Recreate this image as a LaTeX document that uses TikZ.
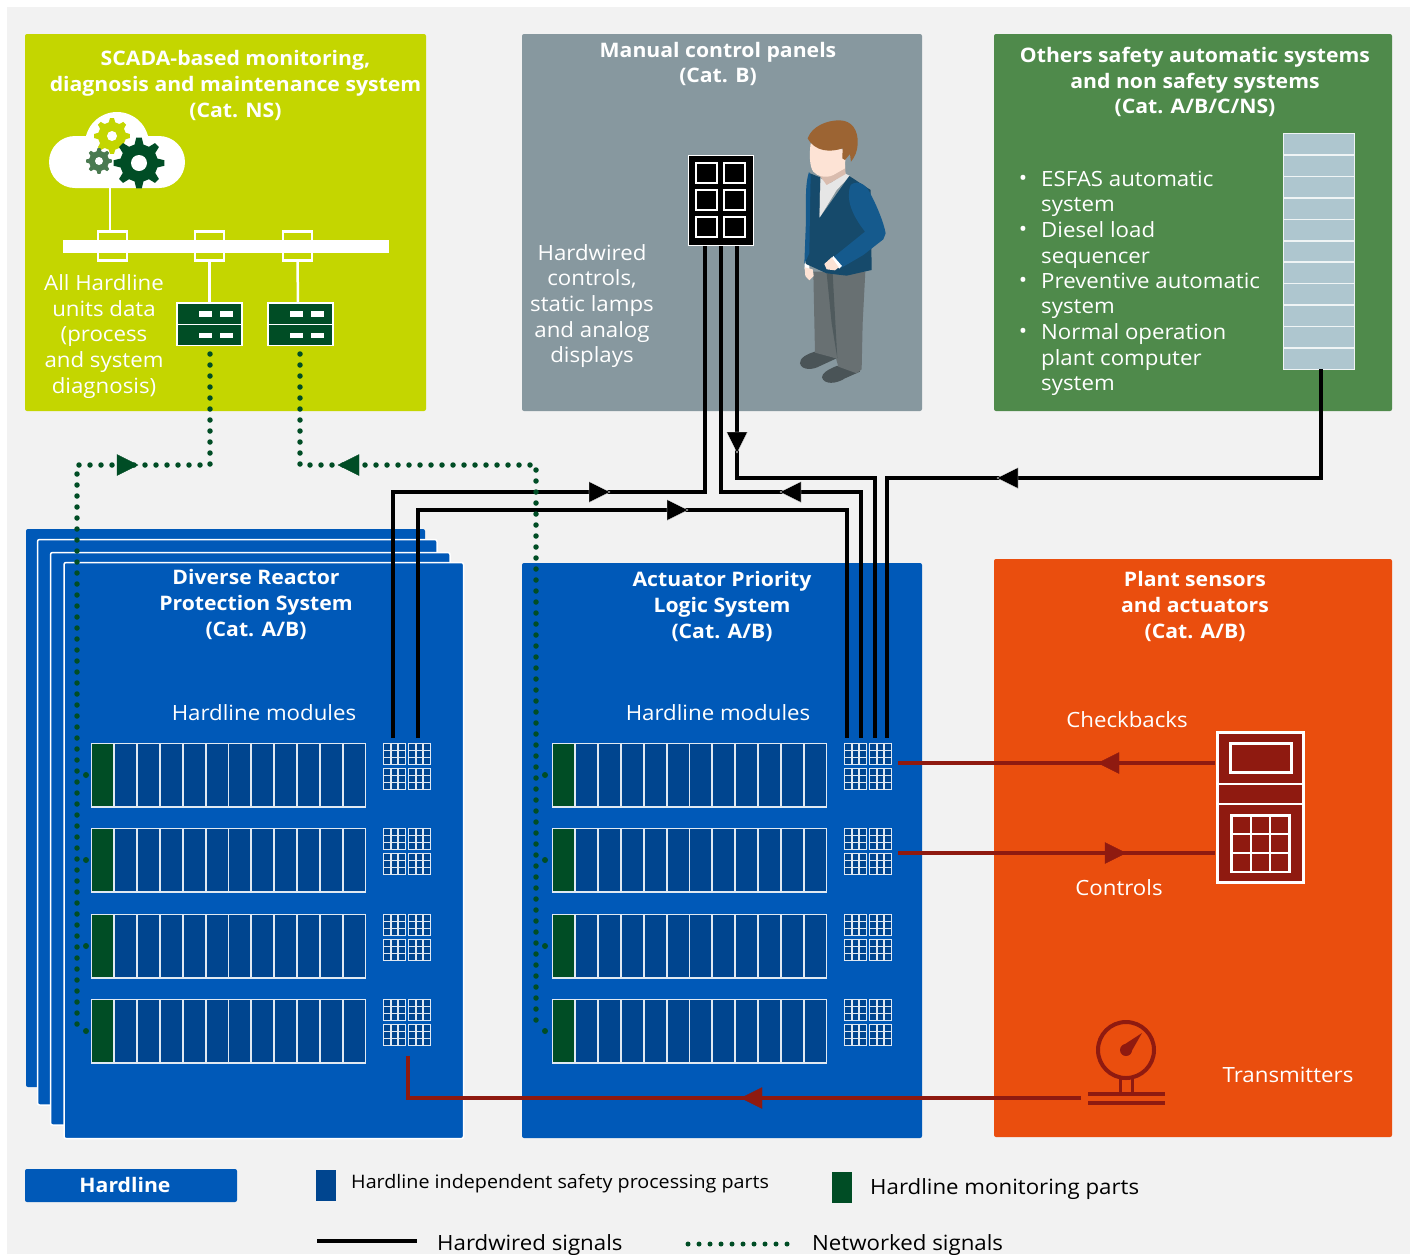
\documentclass[tikz,border=0pt]{standalone}
\usepackage{fontspec}
\setmainfont{Open Sans}[FakeStretch=1.06]
\definecolor{pagebg}{HTML}{F2F2F2}
\definecolor{limebox}{HTML}{C4D600}
\definecolor{greybox}{HTML}{87989F}
\definecolor{greenbox}{HTML}{4F8A4B}
\definecolor{hlblue}{HTML}{0059B8}
\definecolor{orangebox}{HTML}{EA4E0E}
\definecolor{partblue}{HTML}{00458F}
\definecolor{partgreen}{HTML}{004D25}
\definecolor{sigred}{HTML}{8F1A10}
\definecolor{rackblue}{HTML}{AEC6CF}
\definecolor{midgreen}{HTML}{4A7A50}
\definecolor{jacket}{HTML}{164A6B}
\definecolor{sleeve}{HTML}{155A8D}
\definecolor{trouser}{HTML}{687072}
\definecolor{fold}{HTML}{4F5A5D}
\definecolor{shoe}{HTML}{4A5457}
\definecolor{skin}{HTML}{FDE3D5}
\definecolor{hairc}{HTML}{9C6433}
\definecolor{shirt}{HTML}{E6E6E6}
\definecolor{neckc}{HTML}{D9BCAE}
\tikzset{
  panelbox/.style={rounded corners=2pt,draw=none},
  layer/.style={rounded corners=2pt,fill=hlblue,draw=white,line width=1.5pt},
  titletext/.style={text=white,font=\fontsize{20}{25.6}\selectfont\bfseries,align=center,inner sep=0pt},
  bodytext/.style={text=white,font=\fontsize{21}{25.6}\selectfont,align=center,inner sep=0pt},
  legendtext/.style={text=black,font=\fontsize{21}{24}\selectfont,anchor=west,inner sep=0pt},
  hardwire/.style={draw=black,line width=4pt,line join=miter},
  netsig/.style={draw=partgreen,line width=5.5pt,line cap=round,dash pattern=on 0pt off 11pt},
  redsig/.style={draw=sigred,line width=4pt},
  modcell/.style={draw=white!88!partblue,line width=1.8pt},
  whiteline/.style={draw=white,line width=3pt},
}
\newcommand{\modrow}[2]{%
  \draw[modcell,fill=partgreen] (#1+0.5,#2+0.4) rectangle ++(22.8,63.2);
  \foreach \ci in {1,...,11}{\draw[modcell,fill=partblue] (#1+0.5+\ci*22.83,#2+0.4) rectangle ++(22.83,63.2);}
}
\newcommand{\tinygrid}[2]{%
  \draw[modcell,line width=1.5pt,fill=partblue] (#1+0.7,#2+0.7) rectangle ++(21.6,21);
  \foreach \gi in {1,2}{
    \draw[modcell,line width=1.5pt] (#1+0.7+\gi*7.2,#2+0.7) -- ++(0,21);
    \draw[modcell,line width=1.5pt] (#1+0.7,#2+0.7+\gi*7) -- ++(21.6,0);
  }
}
\newcommand{\gridblock}[2]{%
  \tinygrid{#1}{#2}\tinygrid{#1+25}{#2}\tinygrid{#1}{#2+25}\tinygrid{#1+25}{#2+25}
}
\newcommand{\gearshape}[7]{% x y outer root n colour hole
  \begin{scope}[shift={(#1,#2)}]
  \pgfmathsetmacro{\gs}{360/#5}
  \fill[#6] (-0.3*\gs:#4pt)
    \foreach \gk in {1,...,#5}{
      -- ({(\gk-1)*\gs-0.3*\gs}:#4pt) -- ({(\gk-1)*\gs-0.14*\gs}:#3pt) -- ({(\gk-1)*\gs+0.14*\gs}:#3pt) -- ({(\gk-1)*\gs+0.3*\gs}:#4pt)
    } -- cycle;
  \fill[white] (0,0) circle[radius=#7pt];
  \end{scope}
}
\newcommand{\headat}[5]{% tip x, tip y, direction (r,l,d), fill, outline
  \ifx#3r\filldraw[fill=#4,draw=#5,line width=.4pt] (#1,#2) -- ++(-21,-10.5) -- ++(0,21) -- cycle;\fi
  \ifx#3l\filldraw[fill=#4,draw=#5,line width=.4pt] (#1,#2) -- ++(21,-10.5) -- ++(0,21) -- cycle;\fi
  \ifx#3d\filldraw[fill=#4,draw=#5,line width=.4pt] (#1,#2) -- ++(-10.5,-21) -- ++(21,0) -- cycle;\fi
}
\begin{document}
\begin{tikzpicture}[x=1pt,y=-1pt]
\useasboundingbox (0,0) rectangle (1413,1254);
\fill[white] (0,0) rectangle (1413,1254);
\fill[pagebg] (7,7) rectangle (1410,1254);

% ---- top boxes
\fill[limebox,panelbox] (25,34) rectangle (426,411);
\fill[greybox,panelbox] (522,34) rectangle (922,411);
\fill[greenbox,panelbox] (994,34) rectangle (1392,411);
\node[titletext] (scadatitle) at (235.5,85.5) {SCADA-based monitoring,\\diagnosis and maintenance system\\(Cat. NS)};
\node[titletext] (manualtitle) at (718,64) {Manual control panels\\(Cat. B)};
\node[titletext] (otherstitle) at (1195,82) {Others safety automatic systems\\and non safety systems\\(Cat. A/B/C/NS)};

% ---- cloud
\fill[white,rounded corners=26pt] (49,136) rectangle (185,188);
\fill[white] (117,144) circle[radius=32pt];
\gearshape{112}{136}{18}{14}{8}{limebox}{5}
\gearshape{99}{161}{13}{10}{8}{midgreen}{4}
\gearshape{139}{163}{25.5}{19}{8}{partgreen}{8}
\coordinate (cloudfoot) at (110,188);

% ---- bus and servers
\fill[white] (63,240) rectangle (389,253);
\node[draw=white,line width=2.5pt,minimum width=29pt,minimum height=29pt,inner sep=0pt] (tap1) at (112.5,246) {};
\node[draw=white,line width=2.5pt,minimum width=29pt,minimum height=29pt,inner sep=0pt] (tap2) at (209.5,246) {};
\node[draw=white,line width=2.5pt,minimum width=29pt,minimum height=29pt,inner sep=0pt] (tap3) at (297.5,246) {};
\coordinate (server1top) at (209.5,303);
\coordinate (server2top) at (298,303);
\draw[white,line width=2.5pt] (cloudfoot) -- (110,231);
\draw[white,line width=2.5pt] (tap2.south) -- (server1top);
\draw[white,line width=2.5pt] (tap3.south) -- (server2top);
\foreach \sx in {177,268}{
  \draw[fill=partgreen,draw=white,line width=1.5pt] (\sx,303) rectangle ++(65,21.5);
  \draw[fill=partgreen,draw=white,line width=1.5pt] (\sx,324.5) rectangle ++(65,21);
  \fill[white] (\sx+22,311) rectangle ++(13,5.5);
  \fill[white] (\sx+43,311) rectangle ++(13,5.5);
  \fill[white] (\sx+22,332.5) rectangle ++(13,5.5);
  \fill[white] (\sx+43,332.5) rectangle ++(13,5.5);
}
\node[bodytext] (alltext) at (104,336.5) {All Hardline\\units data\\(process\\and system\\diagnosis)};

% ---- operator panel
\node[fill=black,draw=white,line width=1pt,minimum width=65pt,minimum height=90pt,inner sep=0pt] (oppanel) at (721,200.5) {};
\foreach \ox in {696,724}{\foreach \oy in {163,190,217}{
  \draw[white,line width=2.5pt] (\ox,\oy) rectangle ++(21,20);
}}
\node[bodytext] (hardwiredtext) at (592,306) {Hardwired\\controls,\\static lamps\\and analog\\displays};

% ---- person
\begin{scope}[shift={(680,110)},x=0.3333pt,y=-0.3333pt]
  \fill[shoe] (405,725) .. controls (380,732) and (358,745) .. (360,760) .. controls (365,782) and (400,780) .. (420,768) -- (470,745) -- cycle;
  \fill[shoe] (470,768) .. controls (445,778) and (425,790) .. (426,802) .. controls (432,825) and (470,822) .. (495,805) -- (540,785) -- (540,760) -- cycle;
  \fill[trouser] (400,485) -- (405,728) -- (468,745) -- (475,770) -- (530,790) -- (545,778) -- (548,640) -- (556,485) -- cycle;
  \fill[fold] (440,490) -- (458,490) -- (472,745) -- (455,640) -- cycle;
  \fill[white] (374,460) -- (388,462) -- (388,480) -- (374,478) -- cycle;
  \fill[skin] (374,472) -- (398,478) -- (401,498) -- (388,511) -- (376,498) -- cycle;
  \fill[shirt] (422,205) -- (418,325) -- (470,240) -- (510,198) -- (495,190) -- (450,220) -- cycle;
  \fill[neckc] (418,195) -- (440,225) -- (497,192) -- (495,165) -- cycle;
  \fill[jacket] (390,190) -- (420,202) -- (418,325) -- (508,198) -- (572,240) -- (575,480) -- (500,497) -- (440,490) -- (378,462) -- cycle;
  \fill[sleeve] (387,186) .. controls (375,220) and (378,280) .. (378,330) -- (373,462) -- (388,430) -- (390,300) -- (392,195) -- cycle;
  \fill[sleeve] (512,225) .. controls (530,210) and (555,220) .. (568,245) .. controls (590,285) and (612,340) .. (617,370) -- (610,388) -- (550,435) -- (485,473) -- (462,440) -- (555,365) .. controls (520,320) and (495,270) .. (512,225) -- cycle;
  \fill[white] (460,438) -- (486,468) -- (478,476) -- (452,450) -- cycle;
  \fill[skin] (433,462) -- (455,442) -- (476,472) -- (465,481) -- (440,478) -- cycle;
  \fill[skin] (392,100) .. controls (388,130) and (388,170) .. (400,185) .. controls (412,200) and (440,205) .. (460,195) -- (495,175) -- (497,120) -- cycle;
  \fill[hairc] (383,85) .. controls (395,50) and (440,30) .. (480,31) .. controls (515,32) and (535,60) .. (533,100) .. controls (532,125) and (525,140) .. (513,155) -- (510,132) -- (495,150) -- (487,145) -- (488,115) .. controls (450,128) and (405,125) .. (383,85) -- cycle;
\end{scope}

% ---- bullets
\foreach \by in {179,230,281,332}{\node[bodytext] at (1023,\by+1) {•};}
\node[bodytext,align=left,anchor=north west] (esfas) at (1041,170.5) {ESFAS automatic\\system};
\node[bodytext,align=left,anchor=north west] (diesel) at (1041,221.5) {Diesel load\\sequencer};
\node[bodytext,align=left,anchor=north west] (prevent) at (1041,272.5) {Preventive automatic\\system};
\node[bodytext,align=left,anchor=north west] (normal) at (1041,323.5) {Normal operation\\plant computer\\system};

% ---- rack
\foreach \ri in {0,...,10}{
  \draw[fill=rackblue,draw=white!80!rackblue,line width=1.6pt] (1283.5,133.5+\ri*21.45) rectangle ++(71,21.45);
}
\coordinate (rackfoot) at (1321,369);

% ---- lower boxes
\fill[hlblue,panelbox] (26,529) rectangle (425,1087);
\draw[layer] (37.5,539.5) rectangle (437,1105);
\draw[layer] (50.5,552.5) rectangle (450,1125);
\draw[layer] (64,562.5) rectangle (463.5,1138.5);
\fill[hlblue,panelbox] (522,563) rectangle (922,1138);
\fill[orangebox,panelbox] (994,559) rectangle (1392,1137);

\node[titletext] (drpstitle) at (256,604.5) {Diverse Reactor\\Protection System\\(Cat. A/B)};
\node[titletext] (aplstitle) at (722,606.5) {Actuator Priority\\Logic System\\(Cat. A/B)};
\node[titletext] (planttitle) at (1195,606.5) {Plant sensors\\and actuators\\(Cat. A/B)};
\node[bodytext] (hm1) at (264,713) {Hardline modules};
\node[bodytext] (hm2) at (718,713) {Hardline modules};

\foreach \ry in {743,828,914,999}{
  \modrow{91}{\ry}
  \modrow{552}{\ry}
  \gridblock{383}{\ry}
  \gridblock{844}{\ry}
}

% ---- orange symbols
\node[bodytext] (checkb) at (1127,720) {Checkbacks};
\node[bodytext] (controls) at (1119,888) {Controls};
\node[bodytext] (transm) at (1288,1075) {Transmitters};
\node[fill=sigred,draw=white,line width=3pt,minimum width=86pt,minimum height=150pt,inner sep=0pt] (calc) at (1260.5,807.5) {};
\draw[white,line width=2.5pt] (1216,784) -- (1305,784) (1216,804) -- (1305,804);
\draw[white,line width=3pt] (1230,743.5) rectangle (1291,772.5);
\draw[white,line width=2.5pt] (1231.5,815.5) rectangle (1289.5,872);
\draw[white,line width=2.5pt] (1251,815.5) -- (1251,872) (1270,815.5) -- (1270,872) (1231.5,834) -- (1289.5,834) (1231.5,853) -- (1289.5,853);
\coordinate (calcupper) at (1215,763);
\coordinate (calclower) at (1215,853);
\coordinate (aplsout) at (898,763);
\coordinate (aplsin) at (898,853);

\draw[sigred,line width=4pt] (1126,1050) circle[radius=28pt];
\fill[sigred] (1126,1050) circle[radius=6pt];
\fill[sigred] (1122,1046) -- (1142,1033) -- (1130,1054) -- cycle;
\draw[sigred,line width=3pt] (1120,1078) -- (1120,1096) (1132,1078) -- (1132,1096);
\draw[sigred,line width=4pt] (1088,1094) -- (1165,1094) (1088,1103) -- (1165,1103);
\coordinate (gaugeout) at (1081,1098);
\coordinate (drpsin) at (408,1056);

% ---- red signals
\draw[redsig] (calcupper) -- (aplsout);
\draw[redsig] (aplsin) -- (calclower);
\draw[redsig] (gaugeout) -- (408,1098) -- (drpsin);
\headat{1098}{763}{l}{sigred}{sigred}
\headat{1126}{853}{r}{sigred}{sigred}
\headat{741}{1098}{l}{sigred}{sigred}

% ---- hardwired signals
\coordinate (d1) at (393,738);
\coordinate (d2) at (418,738);
\coordinate (a1) at (847,738);
\coordinate (a2) at (861,738);
\coordinate (a3) at (875,738);
\coordinate (a4) at (887,738);
\coordinate (p1) at (705,246);
\coordinate (p2) at (721,246);
\coordinate (p3) at (737,246);
\draw[hardwire] (d1) |- (705,492) -- (p1);
\draw[hardwire] (a2) |- (721,492) -- (p2);
\draw[hardwire] (a3) |- (737,478) -- (p3);
\draw[hardwire] (d2) |- (847,510) -- (a1);
\draw[hardwire] (rackfoot) |- (887,478) -- (a4);
\headat{610}{492}{r}{black}{white}
\headat{688}{510}{r}{black}{white}
\headat{780}{492}{l}{black}{white}
\headat{737}{453}{d}{black}{white}
\headat{997}{478}{l}{black}{white}

% ---- networked signals
\coordinate (s1) at (210,354);
\coordinate (s2) at (300,354);
\draw[netsig] (s1) -- (210,465) -- (77,465) -- (77,1031);
\draw[netsig] (s2) -- (300,465) -- (536,465) -- (536,1031);
\foreach \ny in {775,860,946,1031}{
  \fill[partgreen] (86,\ny) circle[radius=3pt];
  \fill[partgreen] (545,\ny) circle[radius=3pt];
}
\headat{138}{465}{r}{partgreen}{partgreen}
\headat{338}{465}{l}{partgreen}{partgreen}

% ---- legend
\fill[hlblue,panelbox] (25,1169) rectangle (237,1202);
\node[text=white,inner sep=0pt,font=\fontsize{20}{24}\selectfont\bfseries] (legendhl) at (125,1185) {Hardline};
\fill[partblue] (316,1170) rectangle (336,1201);
\node[legendtext,font=\fontsize{18.6}{22}\selectfont] (lg1) at (351,1183.5) {Hardline independent safety processing parts};
\fill[partgreen] (832,1172) rectangle (852,1203);
\node[legendtext] (lg2) at (870,1189.5) {Hardline monitoring parts};
\coordinate (lgb1) at (317,1241);
\coordinate (lgb2) at (417,1241);
\draw[hardwire] (lgb1) -- (lgb2);
\node[legendtext] (lg3) at (437,1245) {Hardwired signals};
\coordinate (lgn1) at (688,1244);
\coordinate (lgn2) at (790,1244);
\draw[draw=partgreen,line width=5pt,line cap=round,dash pattern=on 0pt off 11pt] (lgn1) -- (lgn2);
\node[legendtext] (lg4) at (812,1245) {Networked signals};
\end{tikzpicture}
\end{document}
